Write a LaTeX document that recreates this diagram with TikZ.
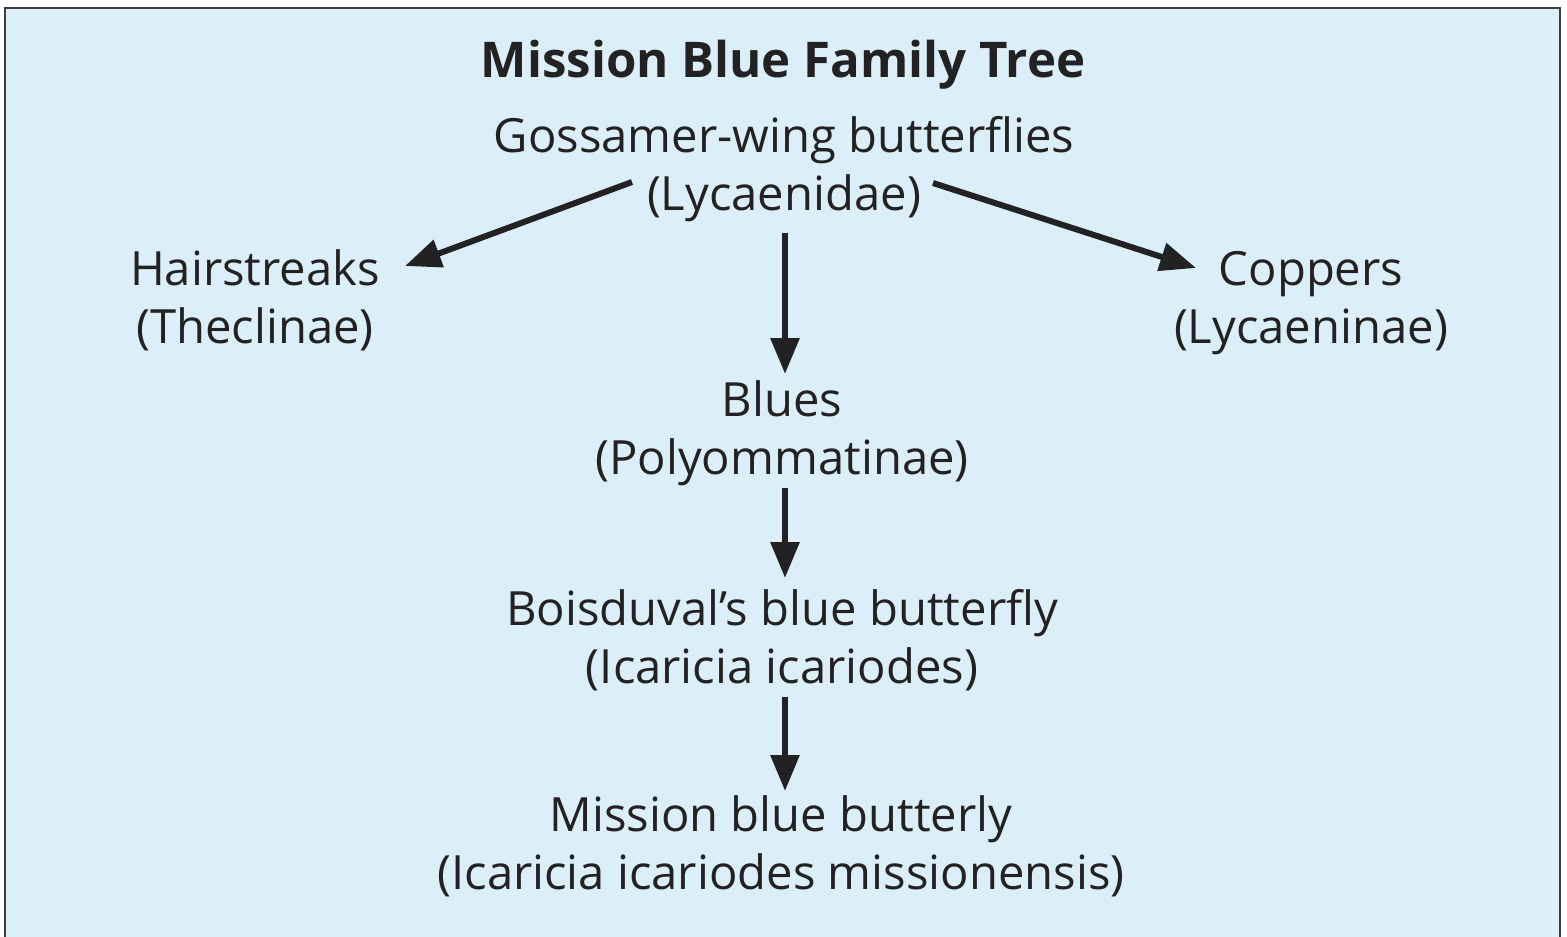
\documentclass[tikz,border=0pt]{standalone}
\usepackage{fontspec}
\setmainfont{Open Sans}
\usetikzlibrary{arrows.meta}
\definecolor{bgblue}{RGB}{220,238,248}
\definecolor{ink}{RGB}{34,34,36}
\definecolor{frame}{RGB}{60,60,62}
\begin{document}
\begin{tikzpicture}[x=0.5pt,y=-0.5pt,
  lbl/.style={align=center, text=ink, inner sep=0pt, font=\fontsize{23.6pt}{29pt}\selectfont},
  ttl/.style={text=ink, inner sep=0pt, font=\fontsize{24.6pt}{29pt}\selectfont\bfseries},
  arr/.style={draw=ink, line width=3pt, -{Triangle[length=18pt,width=14pt]}}]
\useasboundingbox (0,0) rectangle (1567,936);
\fill[white] (0,0) rectangle (1567,936);
\draw[frame, line width=1.3pt, fill=bgblue] (5,8) rectangle (1560,945);
\node[ttl] (title) at (783,65) {Mission Blue Family Tree};
\node[lbl] (gos) at (784,169) {Gossamer-wing butterflies\\(Lycaenidae)};
\node[lbl] (hair) at (255,300) {Hairstreaks\\(Theclinae)};
\node[lbl] (cop) at (1311,303) {Coppers\\(Lycaeninae)};
\node[lbl] (blu) at (782,433) {Blues\\(Polyommatinae)};
\node[lbl] (boi) at (782,640) {Boisduval’s blue butterfly\\(Icaricia icariodes)};
\node[lbl] (mis) at (781,846) {Mission blue butterly\\(Icaricia icariodes missionensis)};
\coordinate (gL) at (632,182);
\coordinate (hT) at (405,266);
\coordinate (gR) at (933,183);
\coordinate (cT) at (1196,268);
\coordinate (gD) at (785,233);
\coordinate (bU) at (785,374);
\coordinate (bD) at (785,488);
\coordinate (oU) at (785,578);
\coordinate (oD) at (785,697);
\coordinate (mU) at (785,791);
\draw[arr] (gL) -- (hT);
\draw[arr] (gR) -- (cT);
\draw[arr] (gD) -- (bU);
\draw[arr] (bD) -- (oU);
\draw[arr] (oD) -- (mU);
\end{tikzpicture}
\end{document}
